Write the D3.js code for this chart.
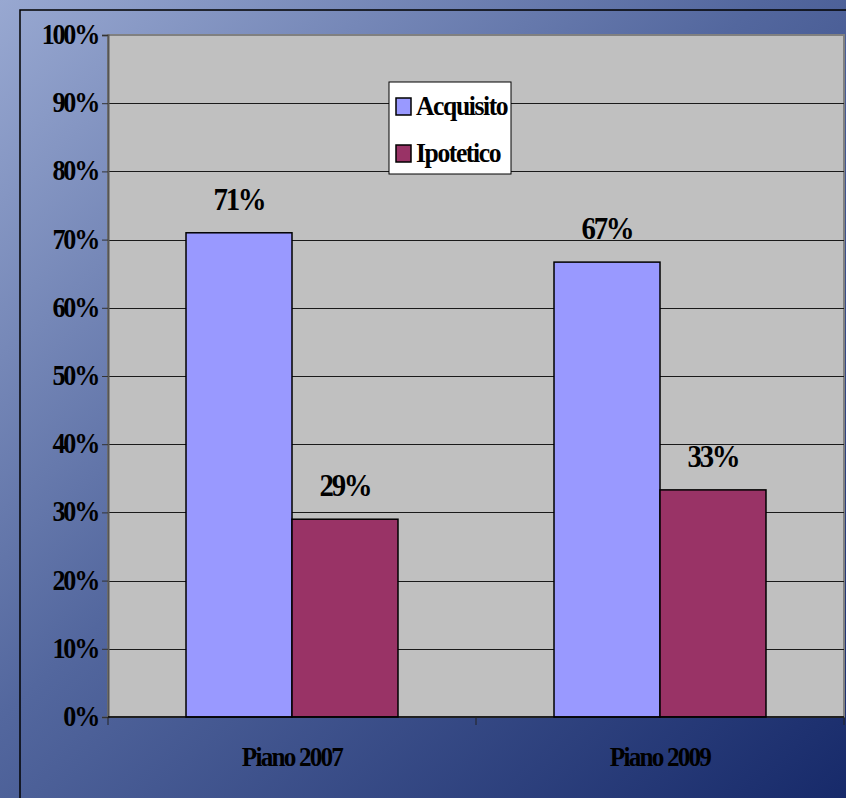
<!DOCTYPE html>
<html>
<head>
<meta charset="utf-8">
<script src="https://cdn.jsdelivr.net/npm/d3@7"></script>
<style>
  html, body { margin: 0; padding: 0; overflow: hidden; }
  svg text { font-family: "Liberation Serif", "Times New Roman", serif; font-weight: bold; fill: #000; }
</style>
</head>
<body>
<svg id="chart" width="846" height="798"></svg>
<script>
// data
const categories = ["Piano 2007", "Piano 2009"];
const series = ["Acquisito", "Ipotetico"];
const acquisito = [0.71, 0.667];
const ipotetico = [0.29, 0.333];
const valueLabels = [["71%", "29%"], ["67%", "33%"]];
const yTicks = [0, 0.1, 0.2, 0.3, 0.4, 0.5, 0.6, 0.7, 0.8, 0.9, 1.0];
const colors = ["#9999FF", "#993366"];

const svg = d3.select("#chart");
const W = 846, H = 798;

// tight, slightly narrowed text like the original
function narrowText(sel, x, y, size, sx, ls, anchor) {
    return sel.append("text")
        .attr("transform", `translate(${x},${y}) scale(${sx},1)`)
        .attr("font-size", size)
        .attr("letter-spacing", ls)
        .attr("text-anchor", anchor);
}

// background gradient
const defs = svg.append("defs");
const grad = defs.append("linearGradient")
    .attr("id", "bg")
    .attr("x1", "0%").attr("y1", "0%")
    .attr("x2", "100%").attr("y2", "100%");
grad.append("stop").attr("offset", "0%").attr("stop-color", "#98a8d1");
grad.append("stop").attr("offset", "45%").attr("stop-color", "#53679e");
grad.append("stop").attr("offset", "100%").attr("stop-color", "#172a6a");

svg.append("rect")
    .attr("width", W).attr("height", H)
    .attr("fill", "url(#bg)");

// outer chart border
svg.append("rect")
    .attr("x", 20).attr("y", 10)
    .attr("width", W).attr("height", H)
    .attr("fill", "none")
    .attr("stroke", "#000")
    .attr("stroke-width", 1.5);

const margin = {top: 35, right: 2, bottom: 81, left: 108};
const width = W - margin.left - margin.right;
const height = H - margin.top - margin.bottom;
const g = svg.append("g").attr("transform", `translate(${margin.left},${margin.top})`);

// scales
const x0 = d3.scaleBand().domain(categories).range([0, width]).padding(0);
const x1 = d3.scaleBand().domain(series).range([0, x0.bandwidth()])
    .paddingInner(0).paddingOuter(0.736);
const y = d3.scaleLinear().domain([0, 1]).range([height, 0]);

// plot area
g.append("rect")
    .attr("width", width).attr("height", height)
    .attr("fill", "#C0C0C0")
    .attr("stroke", "#808080")
    .attr("stroke-width", 2);

// gridlines
g.append("g")
    .selectAll("line")
    .data(yTicks.filter(d => d > 0 && d < 1))
    .join("line")
    .attr("x1", 0).attr("x2", width)
    .attr("y1", d => Math.round(y(d)) + 0.5)
    .attr("y2", d => Math.round(y(d)) + 0.5)
    .attr("stroke", "#1a1a1a")
    .attr("stroke-width", 1);

// y axis
const yAxis = g.append("g")
    .call(d3.axisLeft(y).tickValues(yTicks).tickFormat("").tickSize(6));
yAxis.select(".domain").attr("stroke", "#555").attr("stroke-width", 2);
yAxis.selectAll(".tick line").attr("stroke", "#333");
const fmt = d3.format(".0%");
yTicks.forEach(t => {
    narrowText(g, -10, y(t) + 9, 29, 0.9, -2.5, "end").text(fmt(t));
});

// bars
const data = categories.map((c, i) => ({cat: c, vals: [acquisito[i], ipotetico[i]], labels: valueLabels[i]}));
const groups = g.selectAll(".grp")
    .data(data)
    .join("g")
    .attr("class", "grp")
    .attr("transform", d => `translate(${x0(d.cat)},0)`);

groups.selectAll("rect")
    .data(d => d.vals.map((v, j) => ({s: series[j], v: v, j: j})))
    .join("rect")
    .attr("x", d => x1(d.s))
    .attr("y", d => y(d.v))
    .attr("width", x1.bandwidth())
    .attr("height", d => height - y(d.v))
    .attr("fill", d => colors[d.j])
    .attr("stroke", "#000")
    .attr("stroke-width", 1.5);

groups.each(function(d) {
    const grp = d3.select(this);
    d.vals.forEach((v, j) => {
        narrowText(grp, x1(series[j]) + x1.bandwidth() / 2, y(v) - 23, 32, 0.9, -2.5, "middle")
            .text(d.labels[j]);
    });
});

// x axis
const xAxis = g.append("g")
    .attr("transform", `translate(0,${height})`);
xAxis.append("line")
    .attr("x1", 0).attr("x2", width)
    .attr("stroke", "#000").attr("stroke-width", 1.5);
xAxis.selectAll(".tk")
    .data([0, x0.bandwidth(), width])
    .join("line")
    .attr("x1", d => d).attr("x2", d => d)
    .attr("y1", 0).attr("y2", 8)
    .attr("stroke", "#222");
categories.forEach(c => {
    narrowText(xAxis, x0(c) + x0.bandwidth() / 2, 49, 28, 0.9, -2, "middle").text(c);
});

// legend
const legend = svg.append("g").attr("transform", "translate(389,82)");
legend.append("rect")
    .attr("width", 122).attr("height", 92)
    .attr("fill", "#fff")
    .attr("stroke", "#000")
    .attr("stroke-width", 1);
series.forEach((s, i) => {
    const row = legend.append("g").attr("transform", `translate(7,${16 + i * 47})`);
    row.append("rect")
        .attr("width", 15).attr("height", 17)
        .attr("fill", colors[i])
        .attr("stroke", "#000")
        .attr("stroke-width", 1.5);
    narrowText(row, 20, 17, 27, 0.95, -1.5, "start").text(s);
});
</script>
</body>
</html>
